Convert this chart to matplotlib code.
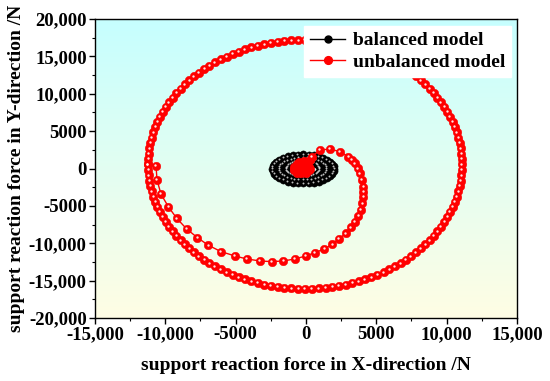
import numpy as np
import matplotlib
matplotlib.use('Agg')
import matplotlib.pyplot as plt
import matplotlib.transforms as mtrans
from matplotlib.ticker import MultipleLocator, FuncFormatter
from matplotlib.lines import Line2D

plt.rcParams['font.family'] = ['Liberation Serif', 'DejaVu Serif']
plt.rcParams['font.weight'] = 'bold'

# balanced model: thick ring of loops around the origin
bal_x = [1000, 982, 928, 839, 719, 571, 400, 210, 8, -200, -408, -610, -800, -971, -1119, -1239, -1328, -1382,
         -1400, -1382, -1328, -1239, -1119, -971, -800, -610, -408, -200, 8, 210, 400, 571, 719, 839, 928, 982,
         1500, 1474, 1397, 1272, 1102, 893, 650, 381, 95, -200, -495, -781, -1050, -1293, -1502, -1672, -1797, -1874,
         -1900, -1874, -1797, -1672, -1502, -1293, -1050, -781, -495, -200, 95, 381, 650, 893, 1102, 1272, 1397, 1474,
         2000, 1967, 1867, 1705, 1485, 1214, 900, 552, 182, -200, -582, -952, -1300, -1614, -1885, -2105, -2267, -2367,
         -2400, -2367, -2267, -2105, -1885, -1614, -1300, -952, -582, -200, 182, 552, 900, 1214, 1485, 1705, 1867, 1967]
bal_y = [-50, 132, 309, 475, 625, 754, 859, 937, 984, 1000, 984, 937, 859, 754, 625, 475, 309, 132,
         -50, -232, -409, -575, -725, -854, -959, -1037, -1084, -1100, -1084, -1037, -959, -854, -725, -575, -409, -232,
         -50, 210, 463, 700, 914, 1100, 1249, 1360, 1427, 1450, 1427, 1360, 1249, 1100, 914, 700, 463, 210,
         -50, -310, -563, -800, -1014, -1200, -1349, -1460, -1527, -1550, -1527, -1460, -1349, -1200, -1014, -800, -563, -310,
         -50, 289, 617, 925, 1203, 1444, 1639, 1782, 1870, 1900, 1870, 1782, 1639, 1444, 1203, 925, 617, 289,
         -50, -389, -717, -1025, -1303, -1544, -1739, -1882, -1970, -2000, -1970, -1882, -1739, -1544, -1303, -1025, -717, -389]

# unbalanced model: centre blob, outward spiral, then the large orbit
unb_x = [-320, -600, -40, -320, -320, -600, -40, -600, -40, -850, -850, 200, 200, -320, -320, -650, 0, -650, 0,
         -850, 250, -500, -150, 300,
         410, 990, 1710, 2420, 3010, 3270, 3480, 3680, 3840, 3970, 4070, 4070, 4070, 4000, 3890, 3720, 3480,
         3200, 2820, 2350, 1870, 1300, 640, -20, -780, -1610, -2440, -3270, -4220, -5050, -6040, -6940,
         -7720, -8480, -9190, -9790, -10310, -10590, -10660,
         -11230, -11220, -11190, -11130, -11060, -10970, -10850, -10710, -10560, -10380, -10180, -9970, -9740,
         -9480, -9210, -8920, -8620, -8300, -7960, -7610, -7240, -6860, -6470, -6070, -5650, -5220, -4790,
         -4340, -3890, -3430, -2960, -2490, -2010, -1530, -1040, -560, -70,
         420, 900, 1390, 1870, 2350, 2820, 3290, 3750, 4200, 4650, 5080, 5510, 5930, 6330, 6720, 7100,
         7470, 7820, 8160, 8480, 8780, 9070, 9340, 9600, 9830, 10040, 10240, 10420, 10570, 10710, 10830,
         10920, 10990, 11050, 11080, 11090,
         11080, 11050, 10990, 10920, 10830, 10710, 10570, 10420, 10240, 10040, 9830, 9600, 9340, 9070, 8780,
         8480, 8160, 7820, 7470, 7100, 6720, 6330, 5930, 5510, 5080, 4650, 4200, 3750, 3290, 2820, 2350,
         1870, 1390, 900, 420, -70,
         -560, -1040, -1530, -2010, -2490, -2960, -3430, -3890, -4340, -4790, -5220, -5650, -6070, -6470,
         -6860, -7240, -7610, -7960, -8300, -8620, -8920, -9210, -9480, -9740, -9970, -10180, -10380, -10560,
         -10710, -10850, -10970, -11060, -11130, -11190, -11220, -11230]
unb_y = [0, 0, 0, 400, -400, 400, 400, -400, -400, 200, -200, 200, -200, 650, -650, -650, -650, 650, 650,
         0, 0, 900, 950, 1100,
         1580, 2470, 2610, 2250, 1580, 1150, 700, 30, -640, -1540, -2430, -3100, -3770, -4650, -5550, -6350, -7110,
         -7870, -8670, -9430, -10140, -10760, -11250, -11700, -12100, -12370, -12460, -12370, -12100, -11700, -11120, -10270,
         -9250, -8090, -6660, -5100, -3410, -1540, 330,
         550, 1280, 2000, 2720, 3440, 4150, 4860, 5560, 6250, 6920, 7590, 8240, 8880,
         9500, 10100, 10690, 11250, 11800, 12320, 12830, 13310, 13760, 14190, 14590, 14970, 15320, 15640,
         15930, 16200, 16430, 16630, 16810, 16950, 17060, 17140, 17180, 17200,
         17180, 17140, 17060, 16950, 16810, 16630, 16430, 16200, 15930, 15640, 15320, 14970, 14590, 14190, 13760, 13310,
         12830, 12320, 11800, 11250, 10690, 10100, 9500, 8880, 8240, 7590, 6920, 6250, 5560, 4860, 4150,
         3440, 2720, 2000, 1280, 550,
         -180, -900, -1620, -2340, -3050, -3760, -4460, -5150, -5820, -6490, -7140, -7780, -8400, -9000, -9590,
         -10150, -10700, -11220, -11730, -12210, -12660, -13090, -13490, -13870, -14220, -14540, -14830, -15100, -15330, -15530, -15710,
         -15850, -15960, -16040, -16080, -16100,
         -16080, -16040, -15960, -15850, -15710, -15530, -15330, -15100, -14830, -14540, -14220, -13870, -13490, -13090,
         -12660, -12210, -11730, -11220, -10700, -10150, -9590, -9000, -8400, -7780, -7140, -6490, -5820, -5150,
         -4460, -3760, -3050, -2340, -1620, -900, -180, 550]

x_ticks = [-15000, -10000, -5000, 0, 5000, 10000, 15000]
y_ticks = [-20000, -15000, -10000, -5000, 0, 5000, 10000, 15000, 20000]


def fmt(v, pos):
    v = int(round(v))
    if abs(v) >= 10000:
        return '{:,}'.format(v)
    return str(v)


fig = plt.figure(figsize=(5.5, 3.81), dpi=100)
ax = fig.add_axes([0.1727, 0.1654, 0.7673, 0.7846])

# cyan to pale yellow background
grad = np.linspace(0, 1, 256).reshape(-1, 1)
c_top = np.array([0.776, 1.0, 1.0])
c_bot = np.array([1.0, 0.992, 0.894])
img = c_top[None, None, :] * (1 - grad[:, :, None]) + c_bot[None, None, :] * grad[:, :, None]
ax.imshow(img, extent=[0, 1, 0, 1], transform=ax.transAxes, aspect='auto', zorder=0)

hl = mtrans.offset_copy(ax.transData, fig=fig, x=-0.6, y=0.6, units='dots')

ax.plot(bal_x, bal_y, '-', color='black', lw=1.0, marker='o', ms=5.2,
        mfc='black', mec='black', mew=0.3, zorder=3)
ax.plot(bal_x, bal_y, 'o', color='white', ms=1.4, mew=0, alpha=0.75, transform=hl, zorder=3.1)

ax.plot(unb_x, unb_y, '-', color='red', lw=1.0, marker='o', ms=6.2,
        mfc='red', mec='red', mew=0.3, zorder=4)
ax.plot(unb_x[24:], unb_y[24:], 'o', color='white', ms=1.7, mew=0, alpha=0.9, transform=hl, zorder=4.1)

ax.set_xlim(-15000, 15000)
ax.set_ylim(-20000, 20000)
ax.set_xticks(x_ticks)
ax.set_yticks(y_ticks)
ax.xaxis.set_minor_locator(MultipleLocator(2500))
ax.yaxis.set_minor_locator(MultipleLocator(2500))
ax.xaxis.set_major_formatter(FuncFormatter(fmt))
ax.yaxis.set_major_formatter(FuncFormatter(fmt))
ax.tick_params(which='major', direction='out', length=4, width=1, labelsize=13.5, pad=2,
               top=False, right=False)
ax.tick_params(which='minor', direction='out', length=2.5, width=0.8, top=False, right=False)
for lab in ax.get_xticklabels() + ax.get_yticklabels():
    lab.set_fontweight('bold')
for s in ax.spines.values():
    s.set_linewidth(1.0)

ax.set_xlabel('support reaction force in X-direction /N', fontsize=14, fontweight='bold', labelpad=10)
ax.set_ylabel('support reaction force in Y-direction /N', fontsize=14, fontweight='bold', labelpad=3)

handles = [
    Line2D([], [], color='black', lw=1.0, marker='o', ms=5, mfc='black', mec='black'),
    Line2D([], [], color='red', lw=1.0, marker='o', ms=5.6, mfc='red', mec='red'),
]
leg = ax.legend(handles, ['balanced model', 'unbalanced model'], loc='upper right',
                bbox_to_anchor=(0.995, 0.99), fontsize=14, frameon=True, fancybox=False,
                handlelength=1.8, handletextpad=0.4, borderpad=0.3, labelspacing=0.2,
                borderaxespad=0.2)
leg.get_frame().set_facecolor('white')
leg.get_frame().set_edgecolor('white')
leg.get_frame().set_alpha(1)
for t in leg.get_texts():
    t.set_fontweight('bold')

plt.savefig('out.png', dpi=100)
